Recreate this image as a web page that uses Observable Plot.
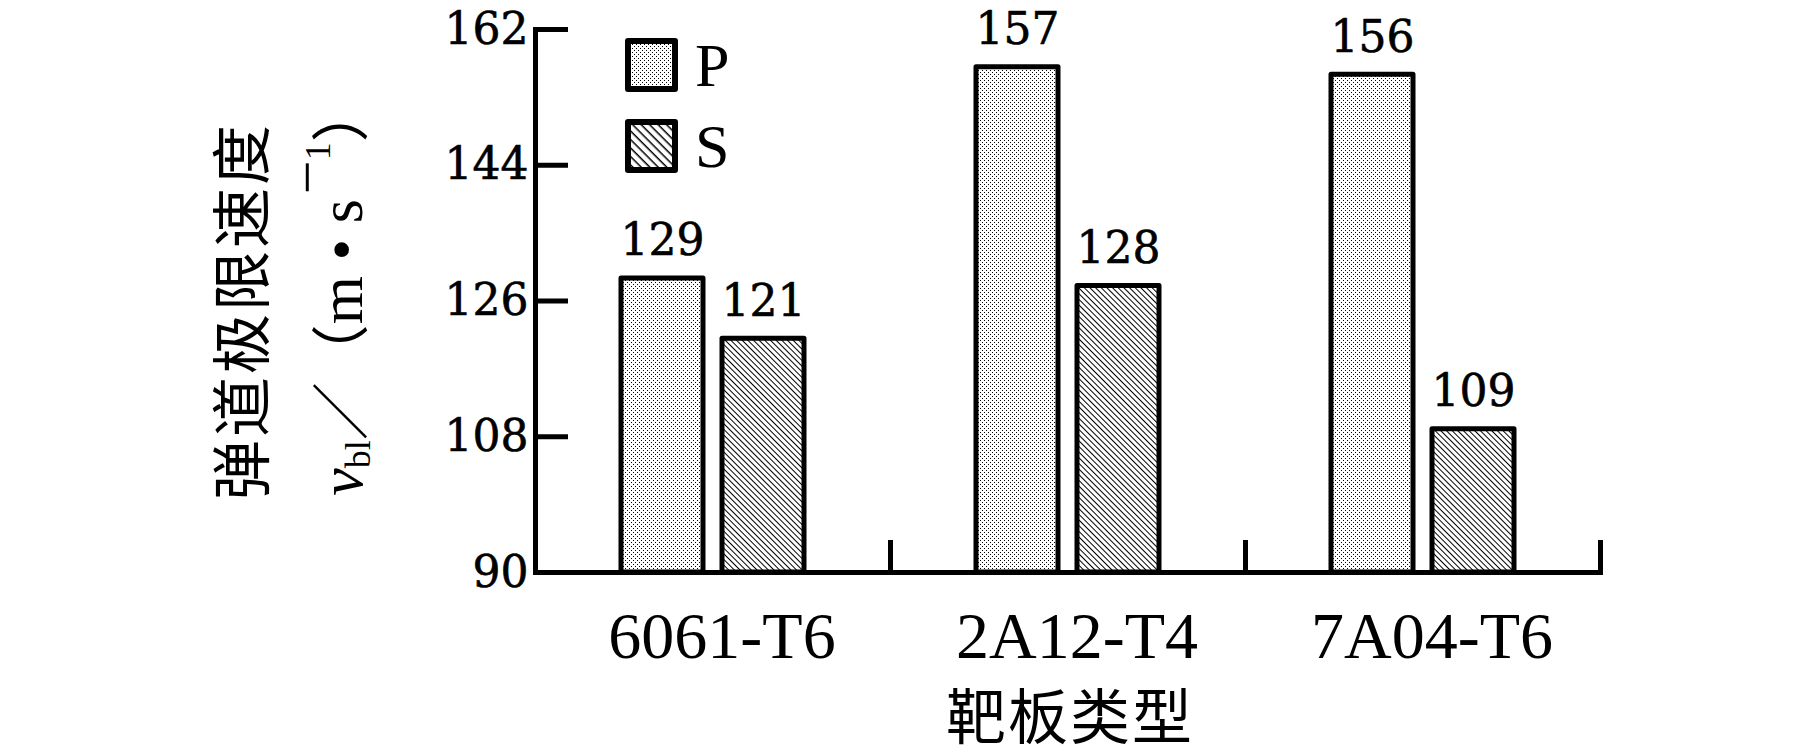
<!DOCTYPE html>
<html><head><meta charset="utf-8">
<script src="https://cdn.jsdelivr.net/npm/d3@7"></script>
<script src="https://cdn.jsdelivr.net/npm/@observablehq/plot@0.6"></script>
<style>body{margin:0;background:#fff}</style>
</head><body><div id="chart"></div>
<script>
const groups = ["6061-T6", "2A12-T4", "7A04-T6"];
const seriesNames = ["P", "S"];
const valuesP = [129, 157, 156];
const valuesS = [121, 128, 109];
const yTicks = [90, 108, 126, 144, 162];
const yDomain = [90, 162];
const xTitle = "靶板类型";
const yTitle = "弹道极限速度";

const data = groups.flatMap((g, i) => [
  {group: g, series: "P", value: valuesP[i]},
  {group: g, series: "S", value: valuesS[i]}
]);
const fillFor = {P: "url(#patP)", S: "url(#patS)"};

const svg = Plot.plot({
  width: 1819, height: 747,
  marginLeft: 534, marginRight: 219, marginTop: 29, marginBottom: 175,
  style: {background: "white", color: "black", fontFamily: "'DejaVu Serif', serif", fontSize: "44px", overflow: "visible"},
  fx: {domain: groups, padding: 0},
  x: {domain: seriesNames, paddingInner: 0.188, paddingOuter: 0.851, axis: null},
  y: {domain: yDomain},
  marks: [
    Plot.barY(data, {fx: "group", x: "series", y1: yDomain[0], y2: "value",
      fill: d => fillFor[d.series], stroke: "black", strokeWidth: 5, strokeLinejoin: "round"}),
    Plot.text(data, {fx: "group", x: "series", y: "value", text: d => String(d.value),
      dy: -23, lineAnchor: "bottom", fontSize: 44, fontFamily: "DejaVu Serif", fill: "black",
      stroke: "black", strokeWidth: 0.6}),
    Plot.frame({anchor: "bottom", strokeWidth: 5}),
    Plot.frame({anchor: "left", strokeWidth: 5, facetAnchor: "left"}),
    Plot.frame({anchor: "right", strokeWidth: 5, insetTop: 513}),
    Plot.axisY({ticks: yTicks, tickSize: -33, tickPadding: 40, strokeWidth: 5, fontSize: 44,
      fontFamily: "DejaVu Serif", label: null}),
    Plot.axisFx({anchor: "bottom", tickSize: 0, tickPadding: 39, dx: 9, fontSize: 66,
      fontFamily: "Liberation Serif", label: null})
  ]
});

const root = d3.select(svg);
root.selectAll("g[aria-label='y-axis tick label'] text").attr("stroke", "black").attr("stroke-width", 0.6);

const defs = root.insert("defs", ":first-child");
function dots(id, s) {
  const p = defs.append("pattern").attr("id", id).attr("patternUnits", "userSpaceOnUse")
    .attr("width", 2 * s).attr("height", 2 * s);
  p.append("rect").attr("width", 2 * s).attr("height", 2 * s).attr("fill", "white");
  p.append("rect").attr("x", 0).attr("y", 0).attr("width", 1).attr("height", 1).attr("fill", "black");
  p.append("rect").attr("x", s).attr("y", s).attr("width", 1).attr("height", 1).attr("fill", "black");
}
function hatch(id, s, w) {
  const p = defs.append("pattern").attr("id", id).attr("patternUnits", "userSpaceOnUse")
    .attr("width", s).attr("height", s).attr("patternTransform", "rotate(45)");
  p.append("rect").attr("width", s).attr("height", s).attr("fill", "white");
  p.append("rect").attr("x", 0).attr("y", 0).attr("width", s).attr("height", w).attr("fill", "black");
}
dots("patP", 2); hatch("patS", 4, 1);
dots("patPL", 2); hatch("patSL", 6, 1.5);

// legend
const lg = root.append("g");
[["P", "url(#patPL)", 41], ["S", "url(#patSL)", 122]].forEach(([name, f, y]) => {
  lg.append("rect").attr("x", 628).attr("y", y).attr("width", 47).attr("height", 48)
    .attr("fill", f).attr("stroke", "black").attr("stroke-width", 6).attr("stroke-linejoin", "round");
  lg.append("text").attr("x", 695).attr("y", y + 45).attr("text-anchor", "start")
    .attr("font-family", "Liberation Serif")
    .attr("font-size", 62).attr("fill", "black").text(name);
});

// axis titles
root.append("text").attr("x", 1070).attr("y", 712).attr("text-anchor", "middle")
  .attr("dominant-baseline", "central").attr("font-family", "'Noto Sans CJK SC'")
  .attr("font-size", 60).attr("letter-spacing", 2).attr("fill", "black").text(xTitle);
root.append("text").attr("transform", "translate(237,311) rotate(-90)").attr("text-anchor", "middle")
  .attr("dominant-baseline", "central").attr("font-family", "'Noto Sans CJK SC'")
  .attr("font-size", 60).attr("letter-spacing", 3).attr("fill", "black").text(yTitle);
const t2 = root.append("text").attr("transform", "translate(362,290) rotate(-90)")
  .attr("text-anchor", "middle").attr("font-family", "'Liberation Serif'")
  .attr("font-size", 62).attr("fill", "black");
t2.append("tspan").attr("font-style", "italic").text("v");
t2.append("tspan").attr("font-size", 36).attr("dy", 8).text("bl");
t2.append("tspan").attr("dy", -8).attr("font-family", "'Noto Sans CJK SC'").attr("font-size", 58).text("／（");
t2.append("tspan").text("m • s");
t2.append("tspan").attr("font-size", 60).attr("dx", 5).attr("dy", -35).text("−");
t2.append("tspan").attr("font-size", 36).attr("dy", 3).text("1");
t2.append("tspan").attr("dy", 32).attr("font-family", "'Noto Sans CJK SC'").attr("font-size", 58).text("）");

document.getElementById("chart").appendChild(svg);
</script></body></html>
